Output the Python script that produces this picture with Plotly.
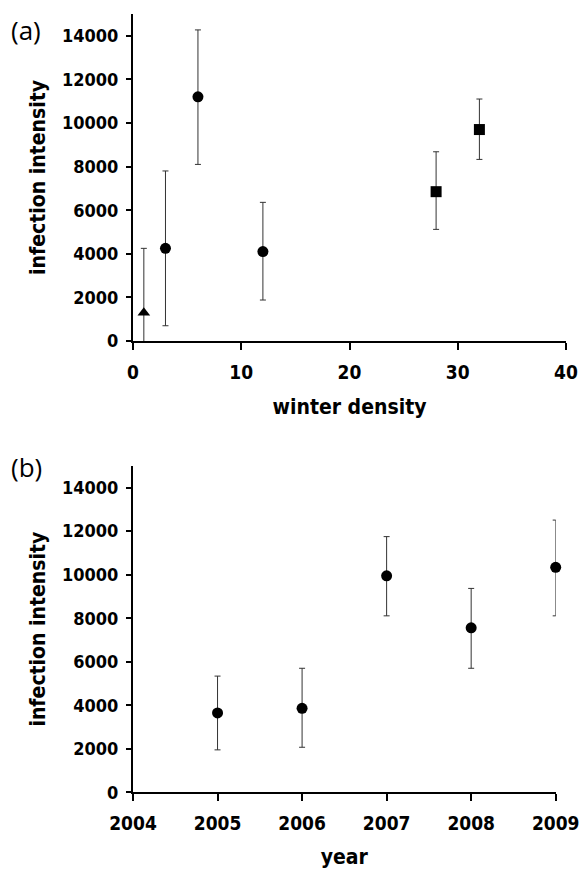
import plotly.graph_objects as go

# ---- Panel (a): infection intensity vs winter density ----
a_tri_x = [1]
a_tri_y = [1300]
a_tri_hi = [4250]
a_tri_lo = [-300]

a_circ_x = [3, 6, 12]
a_circ_y = [4250, 11200, 4100]
a_circ_hi = [7800, 14270, 6360]
a_circ_lo = [700, 8100, 1880]

a_sq_x = [28, 32]
a_sq_y = [6850, 9700]
a_sq_hi = [8680, 11100]
a_sq_lo = [5120, 8330]

# ---- Panel (b): infection intensity vs year ----
b_x = [2005, 2006, 2007, 2008, 2009]
b_y = [3650, 3860, 9950, 7560, 10340]
b_hi = [5340, 5700, 11750, 9370, 12510]
b_lo = [1950, 2070, 8110, 5700, 8110]

y_ticks = [0, 2000, 4000, 6000, 8000, 10000, 12000, 14000]
a_x_ticks = [0, 10, 20, 30, 40]
b_x_ticks = [2004, 2005, 2006, 2007, 2008, 2009]

TICKFONT = "DejaVu Sans Condensed, DejaVu Sans, sans-serif"


def err(y, hi, lo):
    return dict(type="data", symmetric=False,
                array=[h - v for h, v in zip(hi, y)],
                arrayminus=[v - l for v, l in zip(y, lo)],
                color="#333333", thickness=1, width=3)


fig = go.Figure()

fig.add_trace(go.Scatter(x=a_tri_x, y=a_tri_y, mode="markers", xaxis="x", yaxis="y",
                         marker=dict(symbol="triangle-up", size=11, color="black"),
                         error_y=err(a_tri_y, a_tri_hi, a_tri_lo), showlegend=False,
                         cliponaxis=False))
fig.add_trace(go.Scatter(x=a_circ_x, y=a_circ_y, mode="markers", xaxis="x", yaxis="y",
                         marker=dict(symbol="circle", size=11, color="black"),
                         error_y=err(a_circ_y, a_circ_hi, a_circ_lo), showlegend=False,
                         cliponaxis=False))
fig.add_trace(go.Scatter(x=a_sq_x, y=a_sq_y, mode="markers", xaxis="x", yaxis="y",
                         marker=dict(symbol="square", size=11, color="black"),
                         error_y=err(a_sq_y, a_sq_hi, a_sq_lo), showlegend=False,
                         cliponaxis=False))
fig.add_trace(go.Scatter(x=b_x, y=b_y, mode="markers", xaxis="x2", yaxis="y2",
                         marker=dict(symbol="circle", size=11, color="black"),
                         error_y=err(b_y, b_hi, b_lo), showlegend=False,
                         cliponaxis=False))

W, H = 580, 869


def px_x(p):
    return p / W


def px_y(p):
    return 1 - p / H


common_y = dict(range=[0, 15000], tickvals=y_ticks, ticktext=[str(v) for v in y_ticks],
                showline=True, linewidth=2, automargin=False,
                linecolor="black", ticks="outside", ticklen=5, tickwidth=1.5,
                tickcolor="black", showgrid=False, zeroline=False,
                ticklabelstandoff=4,
                tickfont=dict(family=TICKFONT, size=18, color="black", weight="bold"),
                title=dict(text="infection intensity",
                           font=dict(family=TICKFONT, size=21, color="black", weight="bold"),
                           standoff=11))
common_x = dict(showline=True, linewidth=2, linecolor="black", ticks="outside",
                ticklen=7, tickwidth=1.5, tickcolor="black", showgrid=False,
                zeroline=False, automargin=False, ticklabelstandoff=6,
                tickfont=dict(family=TICKFONT, size=19, color="black", weight="bold"))

fig.update_layout(
    width=W, height=H,
    margin=dict(l=0, r=0, t=0, b=0),
    paper_bgcolor="white", plot_bgcolor="white",
    xaxis=dict(common_x, domain=[px_x(133), px_x(566)], range=[0, 40],
               tickvals=a_x_ticks, anchor="y",
               title=dict(text="winter density",
                          font=dict(family=TICKFONT, size=21, color="black", weight="bold"),
                          standoff=18)),
    yaxis=dict(common_y, domain=[px_y(341), px_y(14)], anchor="x"),
    xaxis2=dict(common_x, domain=[px_x(133), px_x(555.7)], range=[2004, 2009],
                tickvals=b_x_ticks, anchor="y2",
                title=dict(text="year",
                           font=dict(family=TICKFONT, size=21, color="black", weight="bold"),
                           standoff=18)),
    yaxis2=dict(common_y, domain=[px_y(792.3), px_y(465.9)], anchor="x2"),
    annotations=[
        dict(text="(a)", x=px_x(26), y=px_y(30), xref="paper", yref="paper",
             showarrow=False, xanchor="center", yanchor="middle",
             font=dict(family="Open Sans, Liberation Sans, sans-serif", size=26, color="black")),
        dict(text="(b)", x=px_x(26), y=px_y(467), xref="paper", yref="paper",
             showarrow=False, xanchor="center", yanchor="middle",
             font=dict(family="Open Sans, Liberation Sans, sans-serif", size=26, color="black")),
    ],
)

fig.write_html("out.html", config={"displayModeBar": False},
               post_script="document.body.style.margin='0';document.body.style.padding='0';")
